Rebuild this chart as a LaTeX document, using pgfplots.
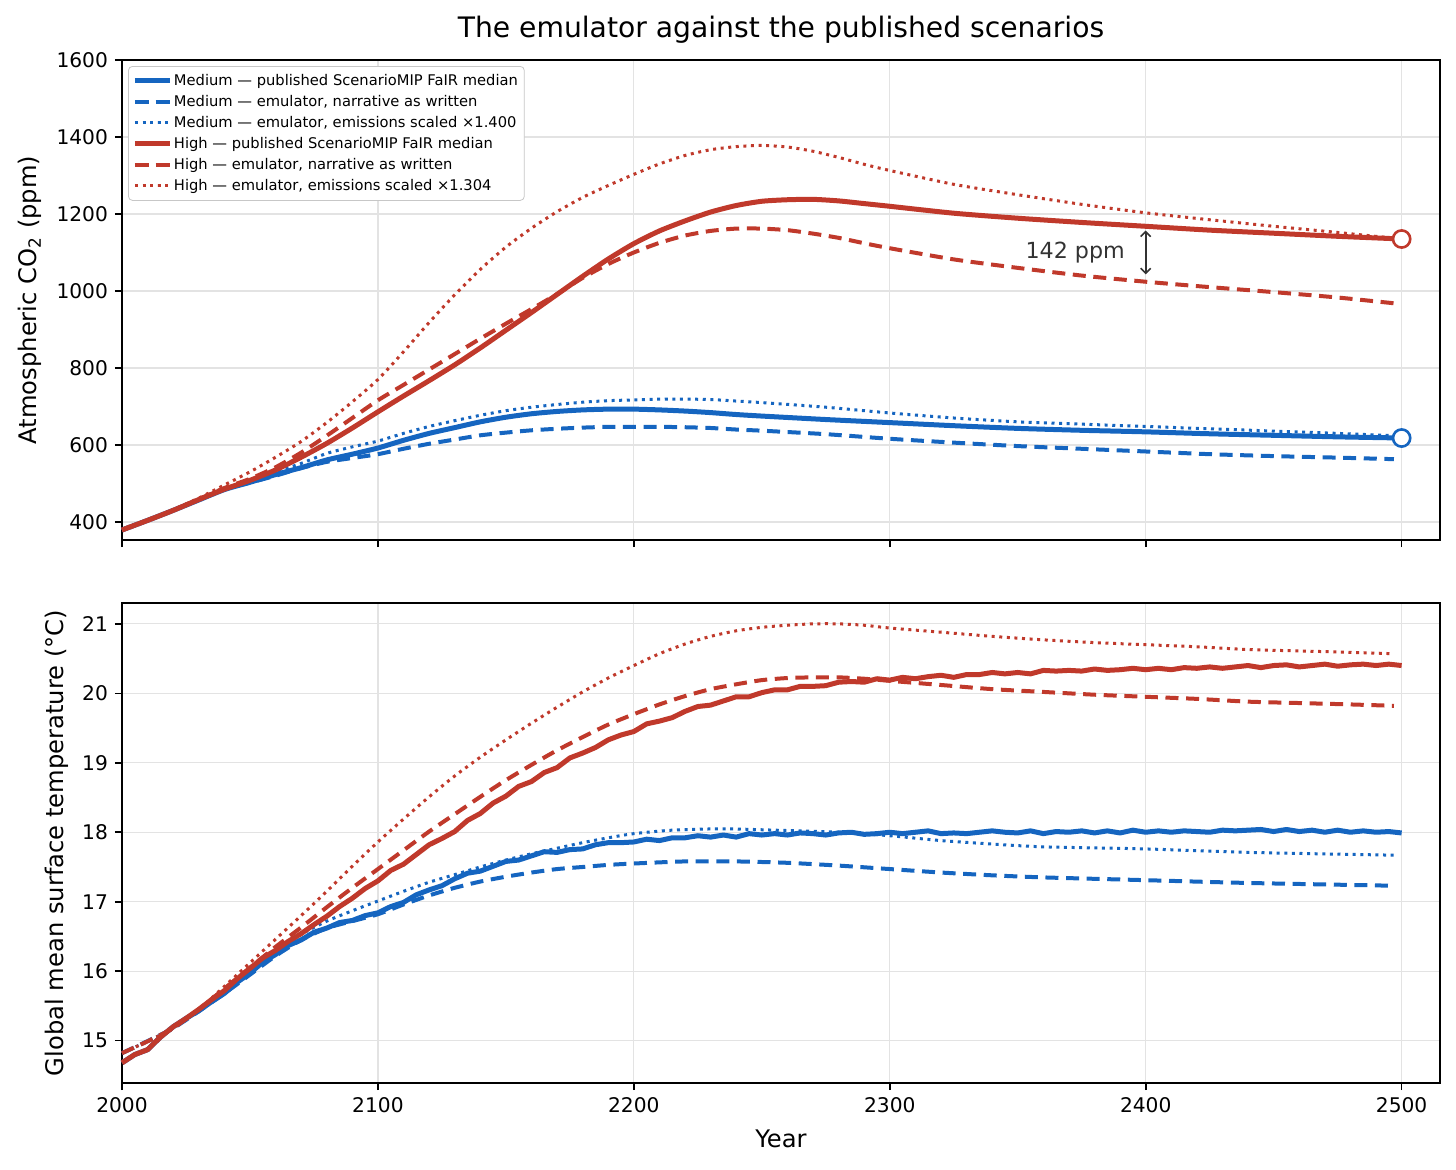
\documentclass[border=0pt]{standalone}
\usepackage{fontspec}
\setmainfont{DejaVu Sans}
\usepackage{pgfplots}
\pgfplotsset{compat=1.18}
\usetikzlibrary{arrows.meta}
\definecolor{cblue}{HTML}{1565C0}
\definecolor{cred}{HTML}{C0392B}
\definecolor{annot}{HTML}{333333}
\pgfplotsset{
  base/.style={
    scale only axis, width=659pt, height=240pt,
    xmin=2000, xmax=2515,
    xtick={2000,2100,...,2500},
    xtick pos=bottom, ytick pos=left,
    tick align=outside, major tick length=3.5pt,
    tick style={black, line width=0.8pt},
    axis line style={line width=0.8pt},
    grid=major, major grid style={black!11, line width=0.6pt},
    tick label style={font=\fontsize{10.1}{12}\selectfont},
    label style={font=\fontsize{12.1}{14}\selectfont},
    /pgf/number format/assume math mode=true,
    /pgf/number format/1000 sep={},
    clip=false,
  },
  pub/.style={line width=2.5pt, line join=round, smooth, tension=0.4},
  pubn/.style={line width=2.5pt, line join=round},
  emu/.style={line width=2pt, dash pattern=on 6.5pt off 3.8pt, smooth, tension=0.4},
  scl/.style={line width=1.5pt, dash pattern=on 1.5pt off 2.3pt, smooth, tension=0.4},
}
\begin{document}
\begin{tikzpicture}
\begin{axis}[base, at={(0pt,0pt)}, anchor=north west,
  ymin=353, ymax=1600, ytick={400,600,...,1600},
  xticklabels={},
  ylabel={Atmospheric CO\textsubscript{2} (ppm)},
  ylabel style={at={(axis description cs:-0.0698,0.5)}, anchor=center, rotate=0},
  title={The emulator against the published scenarios},
  title style={at={(axis description cs:0.5,1.038)}, anchor=center, font=\fontsize{14.1}{16}\selectfont},
  legend cell align=left,
  legend style={at={(axis description cs:0.0046,0.9875)}, anchor=north west,
    draw=black!22, rounded corners=2pt, fill=white, inner sep=2pt,
    font=\fontsize{7.35}{8.8}\selectfont, row sep=0pt,
    nodes={inner sep=1.2pt, text height=6.2pt, text depth=1.9pt}},
]
% Medium published
\addplot[cblue, pub] coordinates {
(2000,379)(2010,404)(2020,430)(2030,457)(2040,484)(2050,503)(2060,523)(2070,541)(2080,561)(2090,576)(2100,592)
(2110,612)(2120,630)(2130,645)(2140,660)(2150,672)(2160,681)(2170,687)(2180,691)(2190,693)(2200,693)
(2210,691)(2220,688)(2230,684)(2240,679)(2250,675)(2275,666)(2300,658)(2325,650)(2350,643)(2375,638)
(2400,634)(2425,629)(2450,625)(2475,621)(2500,618)};
\addlegendentry{Medium — published ScenarioMIP FaIR median}
% Medium emulator
\addplot[cblue, emu] coordinates {
(2000,379)(2020,430)(2040,484)(2050,502)(2060,520)(2070,540)(2080,556)(2090,566)(2100,576)
(2110,590)(2120,603)(2130,614)(2140,625)(2150,632)(2160,638)(2170,642)(2180,645)(2190,647)(2200,647)
(2210,647)(2220,646)(2230,644)(2240,640)(2250,637)(2275,628)(2300,616)(2325,606)(2350,597)(2375,590)
(2400,583)(2425,576)(2450,571)(2475,567)(2497,563)};
\addlegendentry{Medium — emulator, narrative as written}
% Medium scaled
\addplot[cblue, scl] coordinates {
(2000,379)(2020,430)(2040,485)(2050,507)(2060,530)(2070,552)(2080,578)(2090,595)(2100,610)
(2110,630)(2120,648)(2130,663)(2140,677)(2150,689)(2160,698)(2170,705)(2180,711)(2190,715)(2200,717)
(2210,719)(2220,719)(2230,718)(2240,714)(2250,710)(2275,698)(2300,683)(2325,670)(2350,660)(2375,654)
(2400,648)(2425,642)(2450,636)(2475,630)(2497,624)};
\addlegendentry{Medium — emulator, emissions scaled ×1.400}
% High published
\addplot[cred, pub] coordinates {
(2000,379)(2010,404)(2020,430)(2030,458)(2040,485)(2050,508)(2060,535)(2070,568)(2080,604)(2090,644)(2100,686)
(2110,727)(2120,767)(2130,808)(2140,852)(2150,898)(2160,944)(2170,991)(2180,1038)(2190,1083)(2200,1123)
(2210,1156)(2220,1182)(2230,1205)(2240,1222)(2250,1233)(2260,1237)(2270,1238)(2280,1234)(2290,1227)(2300,1220)
(2325,1202)(2350,1189)(2375,1178)(2400,1168)(2425,1158)(2450,1150)(2475,1142)(2500,1135)};
\addlegendentry{High — published ScenarioMIP FaIR median}
% High emulator
\addplot[cred, emu] coordinates {
(2000,379)(2010,404)(2020,430)(2030,459)(2040,488)(2050,512)(2060,542)(2070,580)(2080,624)(2090,670)(2100,716)
(2110,756)(2120,796)(2130,836)(2140,876)(2150,915)(2160,953)(2170,992)(2180,1034)(2190,1070)(2200,1100)
(2210,1125)(2220,1144)(2230,1156)(2240,1162)(2250,1162)(2260,1158)(2270,1149)(2280,1138)(2290,1124)(2300,1111)
(2325,1082)(2350,1060)(2375,1040)(2400,1024)(2425,1010)(2450,997)(2475,983)(2497,968)};
\addlegendentry{High — emulator, narrative as written}
% High scaled
\addplot[cred, scl] coordinates {
(2000,379)(2010,404)(2020,432)(2030,462)(2040,496)(2050,530)(2060,568)(2070,609)(2080,658)(2090,712)(2100,770)
(2110,842)(2120,918)(2130,990)(2140,1056)(2150,1114)(2160,1163)(2170,1206)(2180,1243)(2190,1274)(2200,1303)
(2210,1330)(2220,1352)(2230,1367)(2240,1375)(2250,1378)(2260,1374)(2270,1363)(2280,1347)(2290,1329)(2300,1313)
(2325,1277)(2350,1250)(2375,1225)(2400,1203)(2425,1185)(2450,1168)(2475,1152)(2497,1137)};
\addlegendentry{High — emulator, emissions scaled ×1.304}
% end markers
\addplot[forget plot, only marks, mark=*, mark size=4.3pt, mark options={fill=white, draw=cred, line width=1.3pt}] coordinates {(2500,1135)};
\addplot[forget plot, only marks, mark=*, mark size=4.3pt, mark options={fill=white, draw=cblue, line width=1.3pt}] coordinates {(2500,618)};
\draw[annot, line width=0.8pt, {Straight Barb[length=2.5pt,width=5pt]}-{Straight Barb[length=2.5pt,width=5pt]}] (axis cs:2400,1157) -- (axis cs:2400,1043);
\node[annot, anchor=east, inner sep=0pt, font=\fontsize{11.1}{13}\selectfont] at (axis cs:2392,1101) {142 ppm};
\end{axis}

\begin{axis}[base, at={(0pt,-271.5pt)}, anchor=north west,
  ymin=14.39, ymax=21.30, ytick={15,16,...,21},
  xlabel={Year},
  xlabel style={at={(axis description cs:0.5,-0.117)}, anchor=center},
  ylabel={Global mean surface temperature (°C)},
  ylabel style={at={(axis description cs:-0.0493,0.5)}, anchor=center, rotate=0},
]
% Medium published
\addplot[cblue, pubn] coordinates {
(2000,14.68)(2005,14.80)(2010,14.87)(2015,15.05)(2020,15.20)(2025,15.32)(2030,15.43)(2035,15.56)(2040,15.68)
(2045,15.84)(2050,15.97)(2055,16.13)(2060,16.24)(2065,16.37)(2070,16.45)(2075,16.56)(2080,16.62)(2085,16.70)
(2090,16.73)(2095,16.80)(2100,16.84)
(2105,16.93)(2110,16.99)(2115,17.10)(2120,17.17)(2125,17.23)(2130,17.33)(2135,17.41)(2140,17.44)(2145,17.51)
(2150,17.58)(2155,17.60)(2160,17.66)(2165,17.72)(2170,17.71)(2175,17.75)(2180,17.76)(2185,17.82)(2190,17.85)
(2195,17.85)(2200,17.86)(2205,17.90)(2210,17.88)(2215,17.92)(2220,17.92)(2225,17.95)(2230,17.93)(2235,17.96)
(2240,17.93)(2245,17.98)(2250,17.96)(2255,17.98)(2260,17.96)(2265,17.99)(2270,17.98)(2275,17.96)(2280,17.99)
(2285,18.00)(2290,17.97)(2295,17.98)(2300,18.00)(2305,17.98)(2310,18.00)(2315,18.02)(2320,17.98)(2325,17.99)
(2330,17.98)(2335,18.00)(2340,18.02)(2345,18.00)(2350,17.99)(2355,18.02)(2360,17.98)(2365,18.01)(2370,18.00)
(2375,18.02)(2380,17.99)(2385,18.02)(2390,17.99)(2395,18.03)(2400,18.00)(2405,18.02)(2410,18.00)(2415,18.02)
(2420,18.01)(2425,18.00)(2430,18.03)(2435,18.02)(2440,18.03)(2445,18.04)(2450,18.01)(2455,18.04)(2460,18.01)
(2465,18.03)(2470,18.00)(2475,18.03)(2480,18.00)(2485,18.02)(2490,18.00)(2495,18.01)(2500,17.99)};
% Medium emulator
\addplot[cblue, emu] coordinates {
(2000,14.82)(2020,15.18)(2040,15.68)(2050,15.95)(2060,16.22)(2070,16.45)(2080,16.62)(2090,16.72)(2100,16.82)
(2110,16.96)(2120,17.09)(2130,17.20)(2140,17.29)(2150,17.36)(2160,17.42)(2170,17.47)(2180,17.50)(2190,17.53)
(2200,17.55)(2220,17.58)(2240,17.58)(2260,17.56)(2280,17.52)(2300,17.47)(2320,17.42)(2340,17.38)(2360,17.35)
(2400,17.31)(2440,17.27)(2497,17.23)};
% Medium scaled
\addplot[cblue, scl] coordinates {
(2000,14.82)(2020,15.18)(2040,15.70)(2050,15.98)(2060,16.28)(2070,16.53)(2080,16.72)(2090,16.87)(2100,17.01)
(2110,17.15)(2120,17.28)(2130,17.39)(2140,17.50)(2150,17.60)(2160,17.69)(2170,17.77)(2180,17.85)(2190,17.92)
(2200,17.98)(2215,18.03)(2235,18.05)(2255,18.03)(2280,18.00)(2300,17.95)(2320,17.88)(2340,17.83)(2360,17.79)
(2400,17.76)(2440,17.71)(2497,17.67)};
% High published
\addplot[cred, pubn] coordinates {
(2000,14.68)(2005,14.80)(2010,14.87)(2015,15.05)(2020,15.20)(2025,15.32)(2030,15.45)(2035,15.59)(2040,15.72)
(2045,15.89)(2050,16.04)(2055,16.19)(2060,16.30)(2065,16.43)(2070,16.54)(2075,16.67)(2080,16.79)(2085,16.93)
(2090,17.05)(2095,17.19)(2100,17.30)
(2105,17.45)(2110,17.54)(2115,17.68)(2120,17.82)(2125,17.91)(2130,18.01)(2135,18.17)(2140,18.27)(2145,18.42)
(2150,18.52)(2155,18.66)(2160,18.73)(2165,18.86)(2170,18.93)(2175,19.07)(2180,19.14)(2185,19.22)(2190,19.33)
(2195,19.40)(2200,19.45)(2205,19.56)(2210,19.60)(2215,19.65)(2220,19.74)(2225,19.81)(2230,19.83)(2235,19.89)
(2240,19.95)(2245,19.95)(2250,20.01)(2255,20.05)(2260,20.05)(2265,20.10)(2270,20.10)(2275,20.11)(2280,20.16)
(2285,20.17)(2290,20.16)(2295,20.21)(2300,20.19)(2305,20.23)(2310,20.21)(2315,20.24)(2320,20.26)(2325,20.23)
(2330,20.27)(2335,20.27)(2340,20.30)(2345,20.28)(2350,20.30)(2355,20.28)(2360,20.33)(2365,20.32)(2370,20.33)
(2375,20.32)(2380,20.35)(2385,20.33)(2390,20.34)(2395,20.36)(2400,20.34)(2405,20.36)(2410,20.34)(2415,20.37)
(2420,20.36)(2425,20.38)(2430,20.36)(2435,20.38)(2440,20.40)(2445,20.37)(2450,20.40)(2455,20.41)(2460,20.38)
(2465,20.40)(2470,20.42)(2475,20.39)(2480,20.41)(2485,20.42)(2490,20.40)(2495,20.42)(2500,20.40)};
% High emulator
\addplot[cred, emu] coordinates {
(2000,14.82)(2010,14.99)(2020,15.18)(2030,15.45)(2040,15.75)(2050,16.05)(2060,16.35)(2070,16.63)(2080,16.92)
(2090,17.20)(2100,17.47)(2110,17.74)(2120,18.01)(2130,18.26)(2140,18.51)(2150,18.75)(2160,18.97)(2170,19.18)
(2180,19.37)(2190,19.55)(2200,19.70)(2210,19.84)(2220,19.96)(2230,20.06)(2240,20.13)(2250,20.19)(2260,20.22)
(2270,20.23)(2280,20.23)(2290,20.21)(2300,20.18)(2320,20.12)(2340,20.06)(2360,20.02)(2380,19.98)(2400,19.95)
(2420,19.92)(2440,19.88)(2460,19.86)(2480,19.84)(2497,19.82)};
% High scaled
\addplot[cred, scl] coordinates {
(2000,14.82)(2010,14.99)(2020,15.18)(2030,15.45)(2040,15.78)(2050,16.12)(2060,16.46)(2070,16.80)(2080,17.15)
(2090,17.51)(2100,17.86)(2110,18.19)(2120,18.51)(2130,18.81)(2140,19.08)(2150,19.33)(2160,19.57)(2170,19.80)
(2180,20.02)(2190,20.22)(2200,20.40)(2210,20.57)(2220,20.71)(2230,20.82)(2240,20.90)(2250,20.95)(2260,20.98)
(2270,21.00)(2280,21.00)(2290,20.98)(2300,20.94)(2320,20.88)(2340,20.82)(2360,20.77)(2380,20.73)(2400,20.70)
(2420,20.67)(2440,20.63)(2460,20.61)(2480,20.59)(2497,20.57)};
\end{axis}
\pgfresetboundingbox
\path[use as bounding box] (-61pt,30pt) rectangle (667pt,-554.5pt);
\end{tikzpicture}
\end{document}
